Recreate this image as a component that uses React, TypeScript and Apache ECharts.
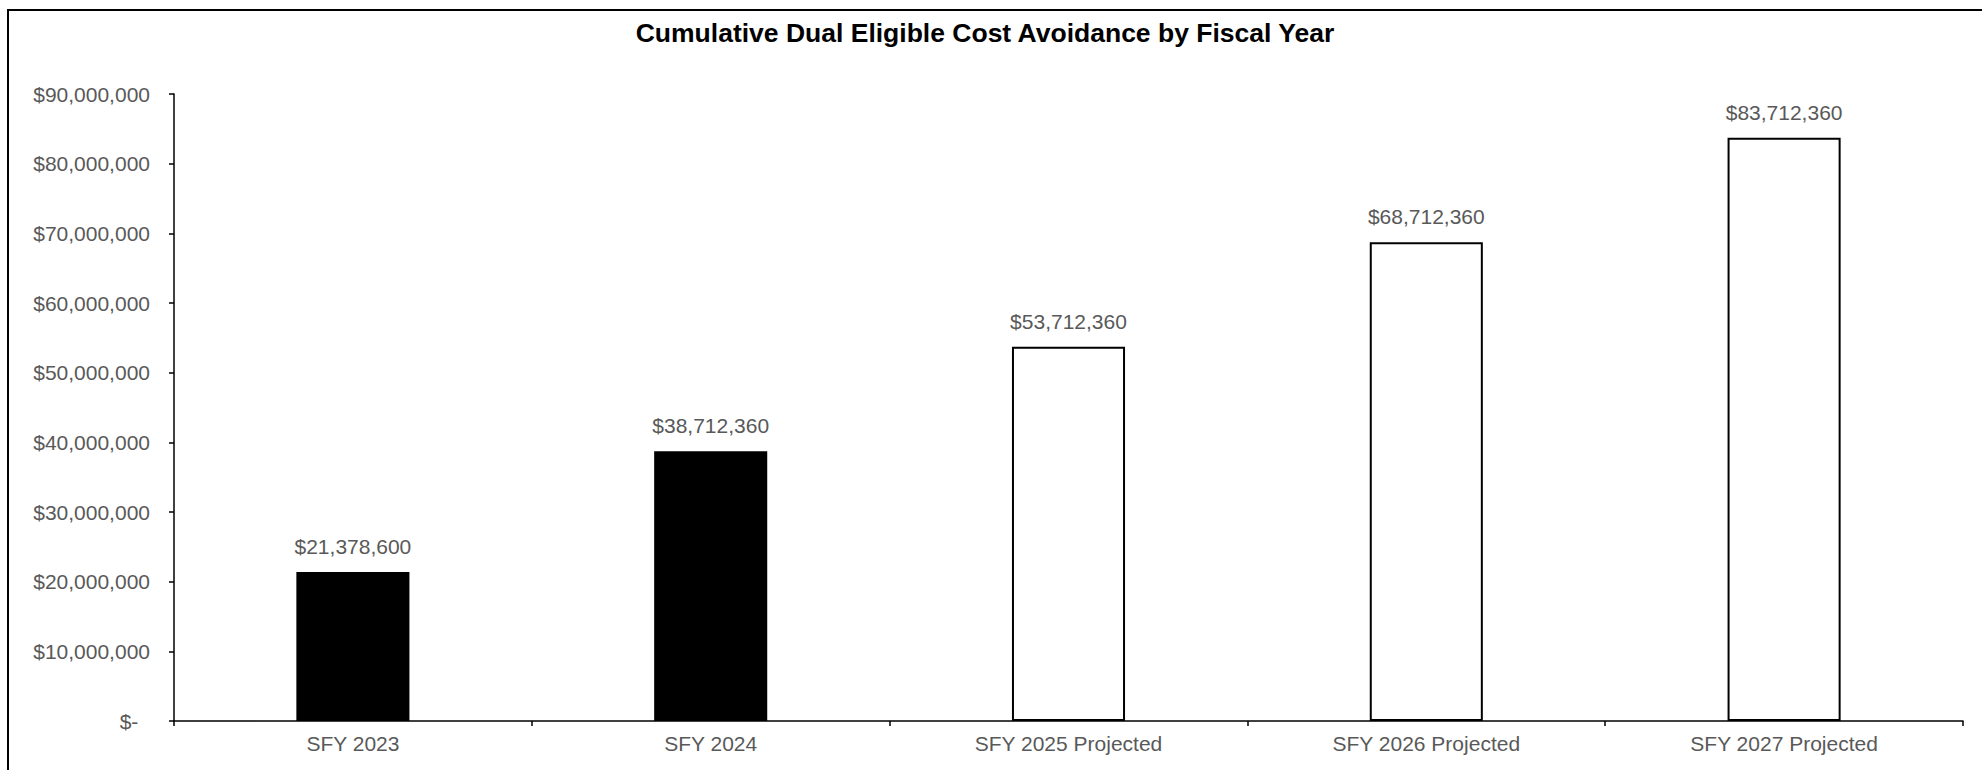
import React, { useEffect, useRef } from "react";
import * as echarts from "echarts";

const categories = ["SFY 2023", "SFY 2024", "SFY 2025 Projected", "SFY 2026 Projected", "SFY 2027 Projected"];
const values = [21378600, 38712360, 53712360, 68712360, 83712360];
const projected = [false, false, true, true, true];
const yMin = 0;
const yMax = 90000000;
const yInterval = 10000000;
const titleText = "Cumulative Dual Eligible Cost Avoidance by Fiscal Year";

const fmt = (v: number) => (v === 0 ? "$-\u00a0\u00a0" : "$" + v.toLocaleString("en-US"));

export default function App() {
  const ref = useRef<HTMLDivElement>(null);
  useEffect(() => {
    document.body.style.margin = "0";
    const chart = echarts.init(ref.current!, null, { renderer: "svg" });
    const font = "'Liberation Sans', Arial, sans-serif";
    chart.setOption({
      animation: false,
      backgroundColor: "#ffffff",
      textStyle: { fontFamily: font },
      title: {
        text: titleText,
        left: 980,
        textAlign: "center",
        top: 14,
        textStyle: { fontFamily: font, fontSize: 26.5, fontWeight: "bold", color: "#000000" },
      },
      graphic: [
        {
          type: "rect",
          shape: { x: 8, y: 10, width: 2000, height: 800 },
          style: { fill: "none", stroke: "#000000", lineWidth: 2 },
          silent: true,
        },
      ],
      grid: { left: 174, right: 19, top: 94, bottom: 49, containLabel: false },
      xAxis: {
        type: "category",
        data: categories,
        axisLine: { lineStyle: { color: "#000000", width: 1.5 } },
        axisTick: { show: true, length: 5, lineStyle: { color: "#000000", width: 1.5 } },
        axisLabel: { color: "#595959", fontSize: 21, fontFamily: font, margin: 12 },
      },
      yAxis: {
        type: "value",
        min: yMin,
        max: yMax,
        interval: yInterval,
        splitLine: { show: false },
        axisLine: { show: true, lineStyle: { color: "#000000", width: 1.5 } },
        axisTick: { show: true, length: 5, lineStyle: { color: "#000000", width: 1.5 } },
        axisLabel: { color: "#595959", fontSize: 21, fontFamily: font, margin: 24, formatter: fmt },
      },
      series: [
        {
          type: "bar",
          barWidth: "31.6%",
          data: values.map((v, i) => ({
            value: v,
            itemStyle: projected[i]
              ? { color: "#ffffff", borderColor: "#000000", borderWidth: 2 }
              : { color: "#000000", borderColor: "#000000", borderWidth: 0 },
          })),
          label: {
            show: true,
            position: "top",
            distance: 15,
            color: "#595959",
            fontSize: 21,
            fontFamily: font,
            formatter: (p: any) => fmt(p.value),
          },
        },
      ],
    });
    return () => chart.dispose();
  }, []);
  return <div ref={ref} style={{ width: 1982, height: 770 }} />;
}
